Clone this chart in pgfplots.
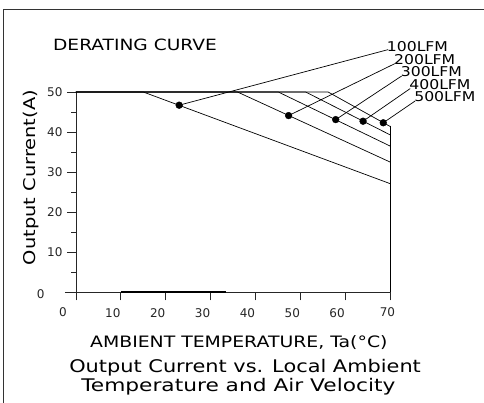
\documentclass[border=0pt]{standalone}
\usepackage{fontspec}
\setmainfont{DejaVu Sans}
\newfontfamily\cad[FakeStretch=1.2]{DejaVu Sans}
\newfontfamily\lab[FakeStretch=1.16]{DejaVu Sans}
\usepackage{pgfplots}
\pgfplotsset{compat=1.18}
\begin{document}
\begin{tikzpicture}
\begin{axis}[
  x=4.486pt, y=4pt,
  xmin=0, xmax=70, ymin=0, ymax=50,
  axis x line*=bottom, axis y line*=left,
  axis line style={-, line width=0.8pt, color=black!85},
  clip=false,
  xtick={0,10,...,70}, ytick={0,10,...,50},
  minor ytick={5,15,...,45},
  tick align=outside,
  major tick length=8.5pt, minor tick length=4.5pt,
  every tick/.style={line width=0.8pt, black!85},
  xticklabels={,10,20,30,40,50,60,},
  yticklabels={,10,20,30,40,50},
  ticklabel style={font=\fontsize{12}{12}\selectfont, black!85},
  x tick label style={xshift=-8pt, yshift=-4.5pt},
  y tick label style={xshift=-1.5pt},
  /pgf/number format/assume math mode=true,
]
% x axis extension left of origin
\addplot[line width=0.8pt, black!85] coordinates {(-2.45,0) (0,0)};
% thick segment on x axis
\addplot[line width=1.8pt, black] coordinates {(10,0) (33.4,0)};
% derating curves
\addplot[line width=0.7pt, black] coordinates {(0,50) (15,50) (70,27.1)};
\addplot[line width=0.7pt, black] coordinates {(0,50) (36,50) (70,32.5)};
\addplot[line width=0.7pt, black] coordinates {(0,50) (45.1,50) (70,36.5)};
\addplot[line width=0.7pt, black] coordinates {(0,50) (51.2,50) (70,39.3)};
\addplot[line width=0.7pt, black] coordinates {(0,50) (56.2,50) (70,41.4)};
\addplot[line width=0.8pt, black] coordinates {(70,41.6) (70,0)};
% leader lines
\addplot[line width=0.7pt, black] coordinates {(23.0,46.7) (69.6,60.6)};
\addplot[line width=0.7pt, black] coordinates {(47.4,44.1) (71.1,57.1)};
\addplot[line width=0.7pt, black] coordinates {(57.9,43.1) (72.6,54.0)};
\addplot[line width=0.7pt, black] coordinates {(64.0,42.7) (74.5,50.85)};
\addplot[line width=0.7pt, black] coordinates {(68.5,42.3) (75.6,47.75)};
% dots
\addplot[only marks, mark=*, mark size=3.4pt, black] coordinates {(23.0,46.7) (47.4,44.1) (57.9,43.1) (64.0,42.7) (68.5,42.3)};
% tick labels at the ends
\node[font=\fontsize{12}{12}\selectfont, text=black!85, inner sep=0pt] at (axis cs:-2.9,-5) {0};
\node[font=\fontsize{12}{12}\selectfont, text=black!85, inner sep=0pt] at (axis cs:69.44,-5) {70};
\node[font=\fontsize{12}{12}\selectfont, text=black!85, inner sep=0pt] at (axis cs:-7.87,-0.5) {0};
% labels
\node[anchor=base west, inner sep=0pt, xshift=-1.5pt, yshift=-1.5pt, font=\lab\fontsize{13.5}{13.5}\selectfont] at (axis cs:69.6,60.6) {100LFM};
\node[anchor=base west, inner sep=0pt, xshift=-1pt, yshift=-1pt, font=\lab\fontsize{13.5}{13.5}\selectfont] at (axis cs:71.1,57.1) {200LFM};
\node[anchor=base west, inner sep=0pt, xshift=-1pt, yshift=-1pt, font=\lab\fontsize{13.5}{13.5}\selectfont] at (axis cs:72.6,54.0) {300LFM};
\node[anchor=base west, inner sep=0pt, xshift=-1pt, yshift=-1pt, font=\lab\fontsize{13.5}{13.5}\selectfont] at (axis cs:74.5,50.85) {400LFM};
\node[anchor=base west, inner sep=0pt, xshift=-1pt, yshift=-1pt, font=\lab\fontsize{13.5}{13.5}\selectfont] at (axis cs:75.6,47.75) {500LFM};
% titles
\node[anchor=base west, inner sep=0pt, font=\cad\fontsize{15.5}{15.5}\selectfont] at (axis cs:-5.13,60.25) {DERATING CURVE};
\node[anchor=center, inner sep=0pt, rotate=90, font=\cad\fontsize{16.2}{16.2}\selectfont] at (axis cs:-10.0,28.6) {Output Current(A)};
\node[anchor=base, inner sep=0pt, font=\cad\fontsize{15.7}{15.7}\selectfont] at (axis cs:36.3,-14) {AMBIENT TEMPERATURE, Ta(°C)};
\node[anchor=base, inner sep=0pt, font=\cad\fontsize{17.4}{17.4}\selectfont] at (axis cs:37.7,-20.2) {Output Current vs. Local Ambient};
\node[anchor=base, inner sep=0pt, font=\cad\fontsize{17.4}{17.4}\selectfont] at (axis cs:36.2,-25.0) {\scalebox{1.04}[1]{Temperature and Air Velocity}};
\coordinate (BL) at (axis cs:-16.94,-27.75);
\coordinate (TR) at (axis cs:90.96,73);
\coordinate (FTL) at (axis cs:-16.05,70.6);
\coordinate (FTR) at (axis cs:90.96,70.6);
\coordinate (FBL) at (axis cs:-16.05,-27.75);
\end{axis}
\draw[line width=1pt, black!80] (FBL) -- (FTL) -- (FTR);
\pgfresetboundingbox
\path[use as bounding box] (BL) rectangle (TR);
\end{tikzpicture}
\end{document}
